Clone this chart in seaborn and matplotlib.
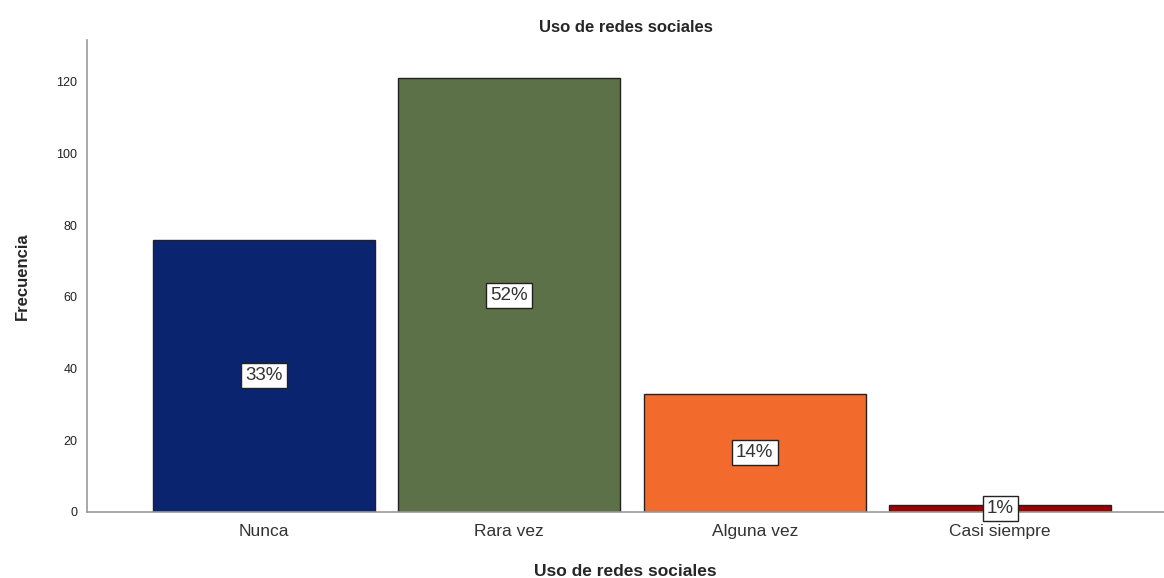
import pandas as pd
import seaborn as sns
import matplotlib.pyplot as plt

# Data
categorias = ['Nunca', 'Rara vez', 'Alguna vez', 'Casi siempre']
frecuencias = [76, 121, 33, 2]
porcentajes = ['33%', '52%', '14%', '1%']
colores = ['#0a2470', '#5c7148', '#f26a2c', '#9c0000']

df = pd.DataFrame({'categoria': categorias, 'frecuencia': frecuencias})

sns.set_style('white')
plt.rcParams['font.family'] = ['Liberation Sans', 'DejaVu Sans']

fig = plt.figure(figsize=(11.64, 5.78), dpi=100)
ax = fig.add_axes([0.0747, 0.1142, 0.9253, 0.8166])

sns.barplot(data=df, x='categoria', y='frecuencia', hue='categoria',
            palette=colores, saturation=1, edgecolor='#222222', linewidth=1.0,
            width=0.904, legend=False, ax=ax)

# Percentage labels in the middle of each bar
for i, (v, p) in enumerate(zip(frecuencias, porcentajes)):
    ax.text(i, v / 2, p, ha='center', va='center', fontsize=13.5, color='#333333',
            bbox=dict(boxstyle='square,pad=0.22', facecolor='white', edgecolor='#222222', linewidth=1))

ax.set_xlim(-0.72, 3.667)
ax.set_ylim(0, 131.7)
ax.set_yticks([0, 20, 40, 60, 80, 100, 120])
ax.tick_params(axis='y', labelsize=9, length=0, pad=7, colors='#222222')
ax.tick_params(axis='x', labelsize=12.5, length=0, pad=9, colors='#333333')

for s in ['top', 'right']:
    ax.spines[s].set_visible(False)
for s in ['left', 'bottom']:
    ax.spines[s].set_color('#999999')
    ax.spines[s].set_linewidth(1.2)

ax.set_title('Uso de redes sociales', fontsize=12, fontweight='bold', pad=6)
ax.set_xlabel('Uso de redes sociales', fontsize=12.5, fontweight='bold', labelpad=18)
ax.set_ylabel('Frecuencia', fontsize=12, fontweight='bold', labelpad=19)

plt.savefig('out.png', dpi=100)
